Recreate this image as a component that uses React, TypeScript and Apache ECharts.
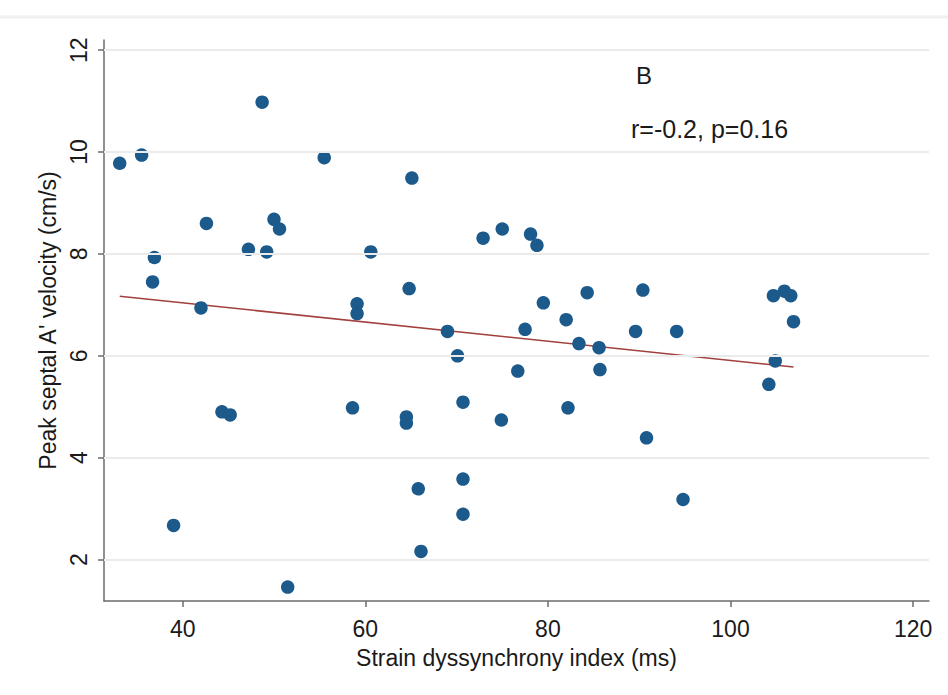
import React, { useEffect, useRef } from "react";
import * as echarts from "echarts";

// Strain dyssynchrony index (ms)
const xValues = [
  33.1, 35.5, 48.7, 55.5, 42.6, 50.0, 50.6, 36.9, 47.2, 49.2,
  60.6, 36.7, 42.0, 59.1, 59.1, 44.3, 45.2, 58.6, 39.0, 51.5,
  65.1, 72.9, 75.0, 78.1, 78.8, 64.8, 79.5, 84.3, 90.4, 82.0,
  69.0, 77.5, 83.4, 85.6, 89.6, 94.1, 70.1, 76.7, 85.7, 70.7,
  82.2, 74.9, 64.5, 64.5, 90.8, 65.8, 70.7, 70.7, 66.1, 94.8,
  104.2, 104.7, 105.9, 106.6, 106.9, 104.9,
];
// Peak septal A' velocity (cm/s)
const yValues = [
  9.78, 9.94, 10.98, 9.89, 8.60, 8.68, 8.49, 7.93, 8.09, 8.04,
  8.04, 7.45, 6.94, 7.02, 6.83, 4.90, 4.84, 4.98, 2.67, 1.46,
  9.49, 8.31, 8.49, 8.39, 8.17, 7.32, 7.04, 7.24, 7.29, 6.71,
  6.48, 6.52, 6.24, 6.16, 6.48, 6.48, 6.00, 5.70, 5.73, 5.09,
  4.98, 4.74, 4.80, 4.68, 4.39, 3.39, 3.58, 2.89, 2.16, 3.18,
  5.44, 7.18, 7.27, 7.18, 6.67, 5.90,
];
// Fitted line end points
const fitX = [33.1, 106.9];
const fitY = [7.17, 5.78];

const xTicks = [40, 60, 80, 100, 120];
const yTicks = [2, 4, 6, 8, 10, 12];

const panelLabel = "B";
const statsLabel = "r=-0.2, p=0.16";
const xTitle = "Strain dyssynchrony index (ms)";
const yTitle = "Peak septal A' velocity (cm/s)";

const FONT = "'Liberation Sans', Arial, Helvetica, sans-serif";

export default function App() {
  const ref = useRef<HTMLDivElement>(null);
  useEffect(() => {
    if (!ref.current) return;
    const chart = echarts.init(ref.current, null, { renderer: "svg" });
    const points = xValues.map((x, i) => [x, yValues[i]]);
    const fit = fitX.map((x, i) => [x, fitY[i]]);
    chart.setOption({
      animation: false,
      backgroundColor: "#ffffff",
      textStyle: { fontFamily: FONT },
      grid: { left: 104, right: 19, top: 40, bottom: 94, containLabel: false },
      xAxis: {
        type: "value",
        min: 31.38,
        max: 121.74,
        name: xTitle,
        nameLocation: "middle",
        nameGap: 45,
        nameTextStyle: { fontSize: 23, color: "#1a1a1a", fontFamily: FONT },
        axisLine: { show: true, onZero: false, lineStyle: { color: "#6b6b6b", width: 1.5 } },
        axisTick: { show: true, length: 6, customValues: xTicks, lineStyle: { color: "#6b6b6b", width: 1.5 } },
        axisLabel: { customValues: xTicks, fontSize: 23, color: "#1a1a1a", margin: 16, fontFamily: FONT },
        splitLine: { show: false },
      },
      yAxis: {
        type: "value",
        min: 1.187,
        max: 12.2,
        name: yTitle,
        nameLocation: "middle",
        nameGap: 45,
        nameTextStyle: { fontSize: 23, color: "#1a1a1a", fontFamily: FONT },
        axisLine: { show: true, onZero: false, lineStyle: { color: "#6b6b6b", width: 1.5 } },
        axisTick: { show: true, length: 6, customValues: yTicks, lineStyle: { color: "#6b6b6b", width: 1.5 } },
        axisLabel: { customValues: yTicks, rotate: 90, fontSize: 23, color: "#1a1a1a", margin: 14, fontFamily: FONT },
        splitLine: { show: false },
      },
      graphic: [
        { type: "line", shape: { x1: 0, y1: 17, x2: 948, y2: 17 }, style: { stroke: "#f0f0f0", lineWidth: 3 } },
        { type: "text", left: 636, top: 63, style: { text: panelLabel, fontSize: 24, fill: "#1a1a1a", fontFamily: FONT } },
        { type: "text", left: 631, top: 116, style: { text: statsLabel, fontSize: 25, fill: "#1a1a1a", fontFamily: FONT } },
      ],
      series: [
        {
          type: "line",
          data: [],
          silent: true,
          markLine: {
            silent: true,
            symbol: "none",
            label: { show: false },
            lineStyle: { color: "#ebebeb", width: 2, type: "solid" },
            data: yTicks.map((v) => ({ yAxis: v })),
          },
        },
        {
          type: "line",
          data: fit,
          symbol: "none",
          lineStyle: { color: "#a2403d", width: 1.6 },
          z: 3,
        },
        {
          type: "scatter",
          data: points,
          symbolSize: 13.5,
          itemStyle: { color: "#1c5a8c", opacity: 1 },
          z: 4,
        },
      ],
    });
    return () => chart.dispose();
  }, []);
  return (
    <div
      ref={ref}
      style={{ position: "absolute", left: 0, top: 0, width: 948, height: 695 }}
    />
  );
}
